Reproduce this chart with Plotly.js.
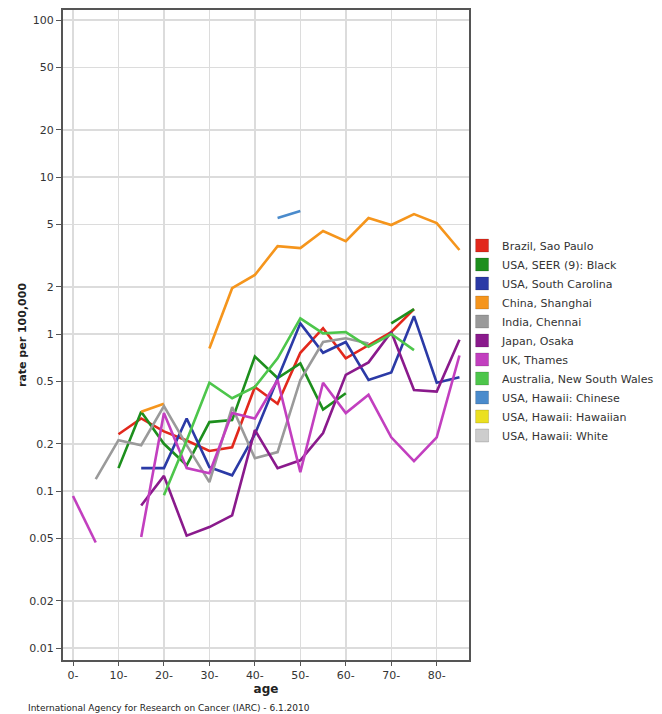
<!DOCTYPE html>
<html>
<head>
<meta charset="utf-8">
<script src="https://cdn.plot.ly/plotly-3.0.1.min.js"></script>
<style>body{margin:0;padding:0;background:#fff;}#chart{width:662px;height:714px;}</style>
</head>
<body>
<div id="chart"></div>
<script>
const ages = [0,5,10,15,20,25,30,35,40,45,50,55,60,65,70,75,80,85];
const tickAges = [0,10,20,30,40,50,60,70,80];
const tickAgeLabels = ["0-","10-","20-","30-","40-","50-","60-","70-","80-"];
const yTickVals = [0.01,0.02,0.05,0.1,0.2,0.5,1,2,5,10,20,50,100];
const yTickText = ["0.01","0.02","0.05","0.1","0.2","0.5","1","2","5","10","20","50","100"];

const seriesNames = ["Brazil, Sao Paulo","USA, SEER (9): Black","USA, South Carolina","China, Shanghai","India, Chennai","Japan, Osaka","UK, Thames","Australia, New South Wales","USA, Hawaii: Chinese","USA, Hawaii: Hawaiian","USA, Hawaii: White"];
const seriesColors = ["#e2281c","#1d8f1d","#2b3aa6","#f5951c","#9a9a9a","#8a1a8c","#c23fbf","#4dc64b","#4a8bcc","#ebe021","#cdcdcd"];

const brazil    = [null,null,0.23,0.29,0.24,0.21,0.18,0.19,0.46,0.36,0.76,1.09,0.70,0.85,1.03,1.44,null,null];
const seerBlack = [null,null,0.14,0.32,0.20,0.146,0.275,0.283,0.72,0.525,0.65,0.33,0.42,null,1.17,1.44,null,null];
const sCarolina = [null,null,null,0.14,0.14,0.29,0.142,0.126,0.23,0.52,1.17,0.76,0.89,0.51,0.57,1.30,0.49,0.53];
const shanghai  = [null,null,null,0.32,0.36,null,0.81,1.96,2.38,3.63,3.53,4.53,3.91,5.48,4.95,5.81,5.09,3.43];
const chennai   = [null,0.119,0.211,0.196,0.348,0.196,0.114,0.343,0.162,0.177,0.51,0.89,0.94,0.87,null,null,null,null];
const osaka     = [null,null,null,0.081,0.125,0.052,0.059,0.070,0.245,0.14,0.157,0.234,0.55,0.66,1.03,0.44,0.43,0.92];
const thames    = [0.093,0.047,null,0.051,0.314,0.14,0.13,0.314,0.29,0.51,0.132,0.49,0.314,0.41,0.22,0.155,0.22,0.73];
const nsw       = [null,null,null,null,0.094,0.21,0.49,0.39,0.46,0.70,1.26,1.01,1.03,0.83,1.0,0.79,null,null];
const hiChinese = [null,null,null,null,null,null,null,null,null,5.48,6.07,null,null,null,null,null,null,null];
const hiHawaiian= [null,null,null,null,null,null,null,null,null,null,null,null,null,null,null,null,null,null];
const hiWhite   = [null,null,null,null,null,null,null,null,null,null,null,null,null,null,null,null,null,null];

const allSeries = [brazil,seerBlack,sCarolina,shanghai,chennai,osaka,thames,nsw,hiChinese,hiHawaiian,hiWhite];

const traces = [];
allSeries.forEach((vals,i)=>{
  traces.push({
    type:'scatter', mode:'lines', x:ages, y:vals, name:seriesNames[i],
    legendgroup:'g'+i, showlegend:false, connectgaps:false,
    line:{color:seriesColors[i], width:2.6}, hoverinfo:'skip'
  });
});
allSeries.forEach((vals,i)=>{
  traces.push({
    type:'scatter', mode:'markers', x:[null], y:[null], name:seriesNames[i],
    legendgroup:'g'+i, showlegend:true,
    marker:{symbol:'square', size:13, color:seriesColors[i], line:{color:'rgba(0,0,0,0.15)', width:1}}
  });
});

const layout = {
  width:662, height:714,
  margin:{l:63, r:193, t:10, b:54, autoexpand:false},
  paper_bgcolor:'#fff', plot_bgcolor:'#fff',
  font:{family:'DejaVu Sans, Verdana, sans-serif', size:11, color:'#333'},
  showlegend:true,
  legend:{x:0.983, y:0.66, xanchor:'left', yanchor:'top', font:{size:11, color:'#333'},
          bgcolor:'rgba(0,0,0,0)', tracegroupgap:0, itemwidth:30},
  xaxis:{range:[-2.2,87.1], tickvals:tickAges, ticktext:tickAgeLabels, automargin:false,
         showgrid:true, gridcolor:'#dcdcdc', gridwidth:1.5, zeroline:false,
         showline:true, linecolor:'#555', linewidth:2, mirror:true,
         ticks:'outside', ticklen:4, tickcolor:'#555', tickfont:{size:11,color:'#333'},
         title:{text:'<b>age</b>', font:{size:12,color:'#222'}, standoff:2}},
  yaxis:{type:'log', range:[-2.076,2.064], tickvals:yTickVals, ticktext:yTickText, automargin:false,
         showgrid:true, gridcolor:'#dcdcdc', gridwidth:1.5, zeroline:false,
         showline:true, linecolor:'#555', linewidth:2, mirror:true,
         ticks:'outside', ticklen:5, tickcolor:'#555', tickfont:{size:11,color:'#333'},
         title:{text:'<b>rate per 100,000</b>', font:{size:11,color:'#222'}, standoff:0}},
  annotations:[{xref:'paper', yref:'paper', x:-0.09, y:-0.063, xanchor:'left', yanchor:'top',
    text:'International Agency for Research on Cancer (IARC) - 6.1.2010', showarrow:false,
    font:{size:9,color:'#222'}}]
};
Plotly.newPlot('chart', traces, layout, {displayModeBar:false, staticPlot:true});
</script>
</body>
</html>
